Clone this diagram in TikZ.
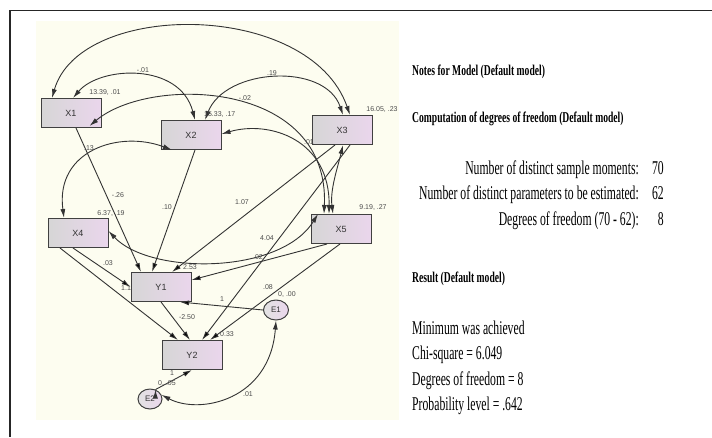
\documentclass[tikz,border=0pt]{standalone}
\usepackage{fontspec}
\setmainfont{Liberation Serif}
\setsansfont{Liberation Sans}
\newfontfamily\amosserif[FakeStretch=0.6]{Liberation Serif}
\newfontfamily\amoshead[FakeStretch=0.64]{Liberation Serif}
\usetikzlibrary{arrows.meta, shapes.geometric}
\definecolor{panel}{HTML}{FDFDF0}
\definecolor{boxgray}{HTML}{D6D6D6}
\definecolor{boxpink}{HTML}{EAD6EC}
\definecolor{linegray}{HTML}{333333}

\begin{document}
\begin{tikzpicture}[x=1pt, y=-1pt, >={Latex[length=9pt,width=5pt]},
    var/.style={draw=black!75, line width=1pt, left color=boxgray, right color=boxpink,
        minimum width=60pt, minimum height=29pt, inner sep=0pt,
        font=\fontsize{9}{9}\sffamily, text=black!80},
    err/.style={ellipse, draw=black!75, line width=1pt, left color=boxgray!70, right color=boxpink,
        minimum width=25pt, minimum height=20pt, inner sep=0pt,
        font=\fontsize{8}{8}\sffamily, text=black!80},
    est/.style={font=\fontsize{7}{7}\sffamily, text=black!70, inner sep=0pt},
    arr/.style={draw=linegray, line width=0.9pt},
    notehead/.style={font=\amoshead\bfseries\fontsize{15}{15}\selectfont, anchor=base west, inner sep=0pt},
    res/.style={font=\amosserif\fontsize{19.5}{20}\selectfont, inner sep=0pt}]

    \useasboundingbox (0,0) rectangle (712,437);
    \fill[panel] (36,21) rectangle (399,420);
    \draw[line width=1.5pt, black!85] (712,10.5) -- (10,10.5) -- (10,437);

    \node[est, anchor=west] (b9) at (121,288) {1.11};

    \node[var] (X1) at (71,113) {X1};
    \node[var] (X2) at (191,135) {X2};
    \node[var] (X3) at (342,130) {X3};
    \node[var] (X4) at (78,233) {X4};
    \node[var] (X5) at (341,229) {X5};
    \node[var] (Y1) at (161,287) {Y1};
    \node[var] (Y2) at (192,355) {Y2};
    \node[err] (E1) at (276,310) {E1};
    \node[err, minimum width=24pt] (E2) at (150,399) {E2};

    \path[->, arr]
        ([xshift=5pt]X1.south) edge ([xshift=-20pt]Y1.north)
        ([xshift=4pt]X2.south) edge ([xshift=-9pt]Y1.north)
        ([xshift=-7pt]X3.south) edge ([xshift=11pt]Y1.north)
        ([xshift=-5pt]X4.south) edge (Y1.west)
        ([xshift=-18pt]X4.south) edge ([xshift=-14pt]Y2.north)
        ([xshift=-14pt]X5.south) edge ([yshift=7pt]Y1.east)
        ([xshift=-1pt]X5.south) edge ([xshift=18pt]Y2.north)
        ([xshift=8pt]X3.south) edge ([xshift=10pt]Y2.north)
        (Y1.south) edge ([xshift=-2pt]Y2.north)
        (E1.west) edge ([xshift=19pt]Y1.south)
        (E2.60) edge (Y2.south);

    \draw[<->, arr] ([xshift=-19pt]X1.north) .. controls (80,0) and (310,0) .. ([xshift=8pt]X3.north);
    \draw[<->, arr] ([xshift=2pt]X1.north) .. controls (100,66) and (180,62) .. ([xshift=4pt]X2.north);
    \draw[<->, arr] ([xshift=14pt]X2.north) .. controls (225,68) and (325,62) .. ([xshift=1pt]X3.north);
    \draw[<->, arr] ([xshift=-12pt,yshift=2pt]X1.south east) .. controls (150,75) and (330,80) .. ([xshift=-17pt]X5.north);
    \draw[<->, arr] ([yshift=1pt]X2.east) .. controls (270,120) and (330,140) .. ([xshift=-12pt]X5.north);
    \draw[<->, arr] ([xshift=-19pt]X2.south) .. controls (120,130) and (55,150) .. ([xshift=-14pt]X4.north);
    \draw[<->, arr] ([xshift=1pt]X3.south) .. controls (337,170) and (330,190) .. ([xshift=-8pt]X5.north);
    \draw[<->, arr] ([yshift=2pt]X4.east) .. controls (150,275) and (280,275) .. ([xshift=-23pt]X5.north);
    \draw[<->, arr] (E1.south) .. controls (270,400) and (200,415) .. (E2.20);

    \node[est] (c12) at (143,70) {-.01};
    \node[est] (c23) at (272,73) {.19};
    \node[est] (c15) at (245,98) {-.02};
    \node[est] (c25) at (309,142) {.01};
    \node[est] (c24) at (89,148) {.13};
    \node[est] (vX1) at (105,92) {13.39, .01};
    \node[est, anchor=west] (vX2) at (204,114) {15.33, .17};
    \node[est] (vX3) at (382,109) {16.05, .23};
    \node[est] (vX4) at (111,213) {6.37, .19};
    \node[est] (vX5) at (373,207) {9.19, .27};
    \node[est] (b1) at (118,195) {-.26};
    \node[est] (b2) at (167,207) {.10};
    \node[est] (b3) at (242,202) {1.07};
    \node[est] (b4) at (108,263) {.03};
    \node[est] (b5) at (258,257) {.02};
    \node[est] (b6) at (267,238) {4.04};
    \node[est] (b7) at (268,287) {.08};
    \node[est] (b8) at (187,317) {-2.50};
    \node[est] (iY1) at (190,267) {2.53};
    \node[est] (iY2) at (227,334) {0.33};
    \node[est] (vE1) at (287,294) {0, .00};
    \node[est] (vE2) at (167,383) {0, .05};
    \node[est] (w1) at (222,299) {1};
    \node[est] (w2) at (172,373) {1};
    \node[est] (cE) at (248,394) {.01};

    \node[notehead] (notes) at (412,75) {Notes for Model (Default model)};
    \node[notehead] (comp) at (412,122) {Computation of degrees of freedom (Default model)};
    \node[res, anchor=base east] (mom) at (639,174) {Number of distinct sample moments:};
    \node[res, anchor=base east] (par) at (639,199.5) {Number of distinct parameters to be estimated:};
    \node[res, anchor=base east] (dfl) at (639,225) {Degrees of freedom (70 - 62):};
    \node[res, anchor=base east] (momv) at (664,174) {70};
    \node[res, anchor=base east] (parv) at (664,199.5) {62};
    \node[res, anchor=base east] (dfv) at (664,225) {8};
    \node[notehead] (result) at (412,282) {Result (Default model)};
    \node[res, anchor=base west] (min) at (412,334) {Minimum was achieved};
    \node[res, anchor=base west] (chi) at (412,359.5) {Chi-square = 6.049};
    \node[res, anchor=base west] (df) at (412,385) {Degrees of freedom = 8};
    \node[res, anchor=base west] (prob) at (412,410.5) {Probability level = .642};

\end{tikzpicture}
\end{document}
